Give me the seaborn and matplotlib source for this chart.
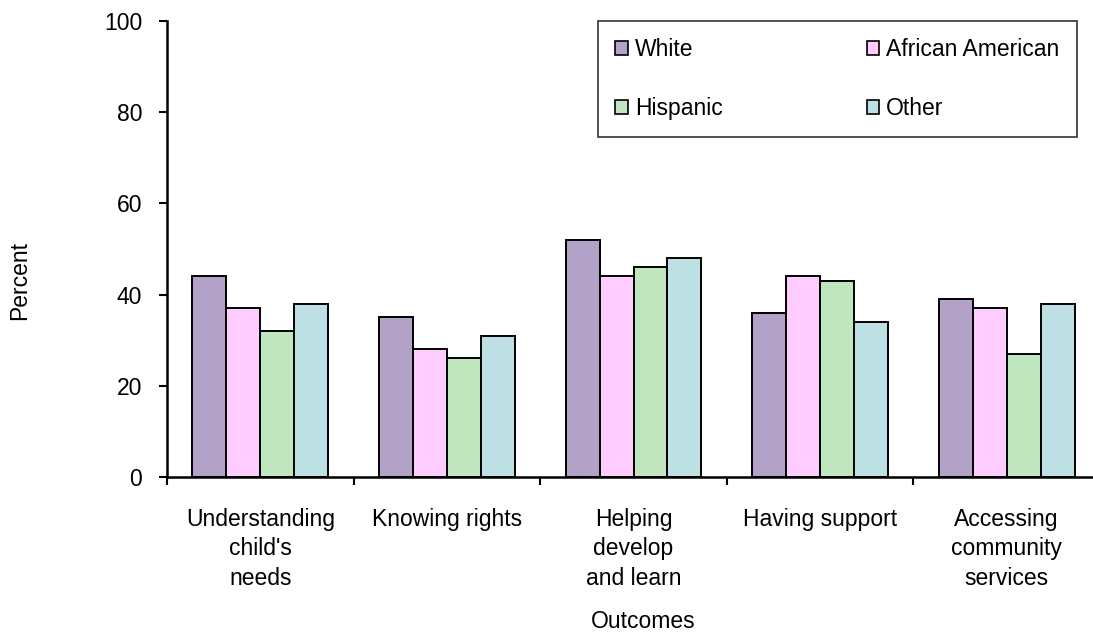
import matplotlib
matplotlib.use("Agg")
import matplotlib.pyplot as plt
from matplotlib.patches import Patch
from matplotlib.ticker import FixedLocator
import seaborn as sns
import pandas as pd

# Outcome categories and group percentages
outcomes = [
    "Understanding\nchild's\nneeds",
    "Knowing rights",
    "Helping\ndevelop\nand learn",
    "Having support",
    "Accessing\ncommunity\nservices",
]
groups = ["White", "African American", "Hispanic", "Other"]
white = [44, 35, 52, 36, 39]
african_american = [37, 28, 44, 44, 37]
hispanic = [32, 26, 46, 43, 27]
other = [38, 31, 48, 34, 38]
y_ticks = [0, 20, 40, 60, 80, 100]

colors = ["#B3A2C7", "#FFCCFF", "#C0E6C0", "#BCE0E3"]
FS = 16.5

rows = []
for g, vals in zip(groups, [white, african_american, hispanic, other]):
    for o, v in zip(outcomes, vals):
        rows.append({"Outcome": o, "Group": g, "Percent": v})
df = pd.DataFrame(rows)

sns.set_theme(style="white")
plt.rcParams["font.family"] = ["Liberation Sans", "DejaVu Sans"]

fig = plt.figure(figsize=(10.93, 6.39), dpi=100)
W, H = 1093, 639
ax = fig.add_axes([167 / W, 1 - 477 / H, (1100 - 167) / W, (477 - 21) / H])

sns.barplot(
    data=df, x="Outcome", y="Percent", hue="Group",
    order=outcomes, hue_order=groups, palette=colors,
    width=0.727, gap=0, edgecolor="black", linewidth=1.4,
    saturation=1, legend=False, ax=ax,
)

ax.set_xlim(-0.5, len(outcomes) - 0.5)
ax.set_ylim(0, 100)
ax.set_yticks(y_ticks)
ax.set_yticklabels([str(t) for t in y_ticks], fontsize=FS)

# Category separators as major ticks, labels as minor ticks
ax.xaxis.set_major_locator(FixedLocator([i - 0.5 for i in range(len(outcomes) + 1)]))
ax.xaxis.set_minor_locator(FixedLocator(list(range(len(outcomes)))))
ax.set_xticklabels([""] * (len(outcomes) + 1))
ax.set_xticklabels(outcomes, minor=True, fontsize=FS, linespacing=1.38)
ax.tick_params(axis="x", which="major", direction="out", length=6, width=1.5,
               color="black", bottom=True)
ax.tick_params(axis="x", which="minor", length=0, pad=22)
ax.tick_params(axis="y", direction="out", length=6, width=1.5, color="black",
               left=True, pad=12, labelcolor="black")
ax.tick_params(axis="x", labelcolor="black", which="both")

for s in ["top", "right"]:
    ax.spines[s].set_visible(False)
for s in ["left", "bottom"]:
    ax.spines[s].set_color("black")
    ax.spines[s].set_linewidth(1.8)
ax.set_xlabel("")
ax.set_ylabel("")

fig.text(20 / W, 1 - 281 / H, "Percent", rotation=90, ha="center", va="center",
         fontsize=FS, color="black")
fig.text(643 / W, 1 - 622 / H, "Outcomes", ha="center", va="center",
         fontsize=FS, color="black")

# Legend laid out row-wise: White / African American, then Hispanic / Other
order = [0, 2, 1, 3]
handles = [Patch(facecolor=colors[i], edgecolor="black", linewidth=1.2) for i in order]
labels = [groups[i] for i in order]
leg = fig.legend(
    handles, labels, loc="upper left",
    bbox_to_anchor=(598 / W, 1 - 21 / H), bbox_transform=fig.transFigure,
    ncol=2, fontsize=FS, frameon=True, fancybox=False,
    handlelength=0.55, handleheight=0.55, handletextpad=0.3,
    labelspacing=1.55, columnspacing=6.3, borderpad=0.75, borderaxespad=0,
)
leg.get_frame().set_edgecolor("black")
leg.get_frame().set_linewidth(1.2)
for t in leg.get_texts():
    t.set_color("black")

fig.savefig("out.png", dpi=100)
